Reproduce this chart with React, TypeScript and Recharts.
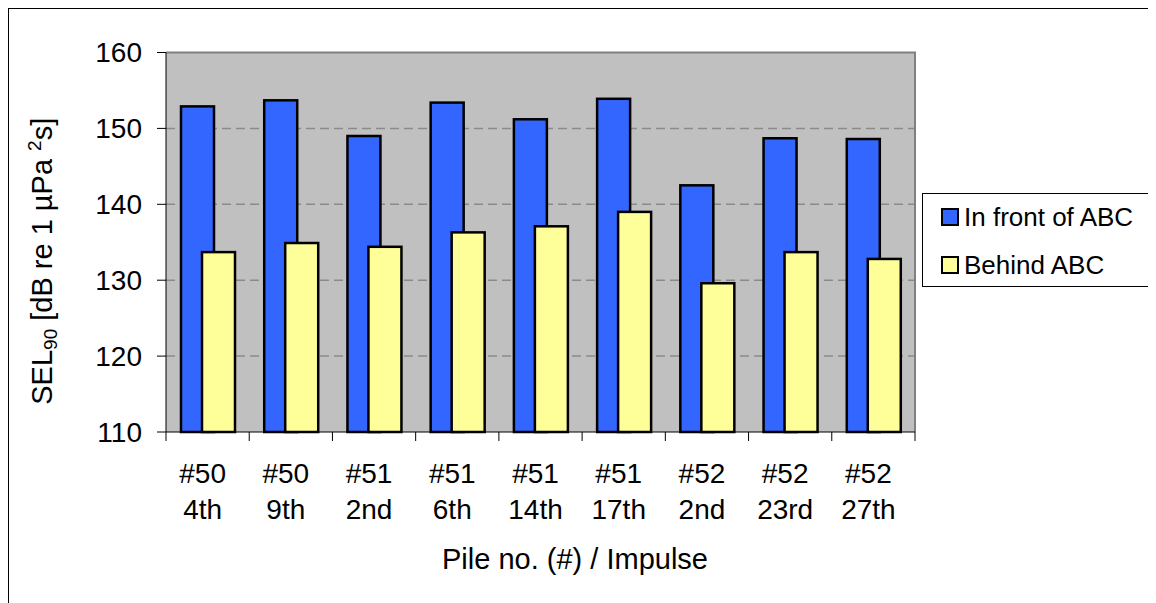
import React from 'react';
import {
  Bar,
  BarChart,
  CartesianGrid,
  Label,
  Legend,
  ReferenceArea,
  XAxis,
  YAxis,
} from 'recharts';

// Excel-style grouped bar chart: sound exposure level in front of / behind the ABC.

const piles = ['#50', '#50', '#51', '#51', '#51', '#51', '#52', '#52', '#52'];
const impulses = ['4th', '9th', '2nd', '6th', '14th', '17th', '2nd', '23rd', '27th'];
const inFront = [152.9, 153.7, 149.0, 153.4, 151.2, 153.9, 142.5, 148.7, 148.6];
const behind = [133.7, 134.9, 134.4, 136.3, 137.1, 139.0, 129.6, 133.7, 132.8];
const seriesNames = ['In front of ABC', 'Behind ABC'];
const yTicks = [110, 120, 130, 140, 150, 160];
const gridValues = [120, 130, 140, 150];

const data = piles.map((pile, i) => ({
  name: `${pile} ${impulses[i]}`,
  pile,
  impulse: impulses[i],
  front: inFront[i],
  behind: behind[i],
}));

const FONT = '"Liberation Sans", Arial, sans-serif';
const BLUE = '#3366FF';
const YELLOW = '#FFFF99';
const PLOT_BG = '#C0C0C0';

function CategoryTick(props: any) {
  const { x, y, payload, index, width, visibleTicksCount } = props;
  const n = visibleTicksCount || data.length;
  const half = width / n / 2;
  const d = data[payload.index ?? index];
  return (
    <g>
      <line x1={x - half} x2={x - half} y1={y} y2={y + 9} stroke="#000" strokeWidth={1} />
      {index === n - 1 && (
        <line x1={x + half} x2={x + half} y1={y} y2={y + 9} stroke="#000" strokeWidth={1} />
      )}
      <text x={x - 5} y={y + 51} textAnchor="middle" fontSize={28} fontFamily={FONT} fill="#000">
        {d ? d.pile : ''}
      </text>
      <text x={x - 5} y={y + 87} textAnchor="middle" fontSize={28} fontFamily={FONT} fill="#000">
        {d ? d.impulse : ''}
      </text>
    </g>
  );
}

function XTitle(props: any) {
  const vb = props.viewBox;
  return (
    <text
      x={vb.x + vb.width / 2 + 34.5}
      y={vb.y + 137}
      textAnchor="middle"
      fontSize={29}
      fontFamily={FONT}
      fill="#000"
    >
      Pile no. (#) / Impulse
    </text>
  );
}

function YTitle(props: any) {
  const vb = props.viewBox;
  const cy = vb.y + vb.height / 2 + 19;
  return (
    <text
      transform={`translate(43, ${cy}) rotate(-90)`}
      textAnchor="middle"
      fontSize={29}
      fontFamily={FONT}
      fill="#000"
    >
      <tspan>SEL</tspan>
      <tspan fontSize={19} dy={5}>90</tspan>
      <tspan dy={-5}> [dB re 1 µPa </tspan>
      <tspan fontSize={19} dy={-11}>2</tspan>
      <tspan dy={11}>s]</tspan>
    </text>
  );
}

function PlotFrame(props: any) {
  const { x, y, width, height } = props;
  return (
    <path
      d={`M${x},${y} H${x + width} V${y + height}`}
      fill="none"
      stroke="#808080"
      strokeWidth={2}
    />
  );
}

// plain outlined rectangle, Excel draws a heavy black border round each bar
function OutlinedBar(props: any) {
  const { x, y, width, height, fill } = props;
  if (!height || height <= 0) return null;
  return (
    <rect x={x} y={y} width={width} height={height} fill={fill} stroke="#000" strokeWidth={2.5} />
  );
}

function LegendBox(props: any) {
  // keep the series order (the legend would otherwise sort by name)
  const items = [...(props.payload || [])].sort(
    (a: any, b: any) => seriesNames.indexOf(a.value) - seriesNames.indexOf(b.value),
  );
  return (
    <div
      style={{
        position: 'relative',
        width: 234,
        height: 94,
        boxSizing: 'border-box',
        borderLeft: '1px solid #000',
        borderTop: '1px solid #000',
        borderBottom: '1px solid #000',
        background: '#fff',
        fontFamily: FONT,
        fontSize: 26,
        color: '#000',
      }}
    >
      {items.map((it: any, i: number) => (
        <div
          key={it.value}
          style={{
            position: 'absolute',
            left: 18,
            top: 14 + i * 48,
            height: 18,
            display: 'flex',
            alignItems: 'center',
            whiteSpace: 'nowrap',
          }}
        >
          <span
            style={{
              width: 18,
              height: 18,
              boxSizing: 'border-box',
              border: '2px solid #000',
              background: it.color,
              marginRight: 5,
              display: 'inline-block',
            }}
          />
          <span style={{ lineHeight: '18px' }}>{it.value}</span>
        </div>
      ))}
    </div>
  );
}

export default function App() {
  return (
    <>
      <style>{'html, body { overflow: hidden; }'}</style>
      <div
        style={{
          width: 1148,
          height: 595,
          boxSizing: 'border-box',
          borderLeft: '1px solid #000',
          borderTop: '1px solid #000',
          background: '#fff',
        }}
      >
        <BarChart
          width={1147}
          height={594}
          data={data}
          margin={{ top: 43.5, right: 241, bottom: 0, left: 0 }}
          barGap={-12}
        >
          <CartesianGrid
            vertical={false}
            horizontalValues={gridValues}
            fill={PLOT_BG}
            fillOpacity={1}
            stroke="#8a8a8a"
            strokeWidth={1.5}
            strokeDasharray="9 5"
          />
          <ReferenceArea y1={110} y2={160} shape={<PlotFrame />} ifOverflow="visible" />
          <XAxis
            dataKey="name"
            type="category"
            height={171}
            interval={0}
            tickLine={false}
            tickSize={0}
            tickMargin={0}
            axisLine={{ stroke: '#000', strokeWidth: 1 }}
            tick={<CategoryTick />}
          >
            <Label content={<XTitle />} />
          </XAxis>
          <YAxis
            type="number"
            domain={[110, 160]}
            ticks={yTicks}
            width={157}
            tickSize={9}
            tickMargin={15}
            axisLine={{ stroke: '#000', strokeWidth: 1 }}
            tickLine={{ stroke: '#000', strokeWidth: 1 }}
            tick={{ fontSize: 28, fill: '#000', fontFamily: FONT }}
          >
            <Label content={<YTitle />} />
          </YAxis>
          <Legend
            layout="vertical"
            align="center"
            verticalAlign="middle"
            content={<LegendBox />}
            wrapperStyle={{ left: 913, top: 184, width: 234, height: 94 }}
          />
          <Bar
            dataKey="front"
            name={seriesNames[0]}
            fill={BLUE}
            barSize={33}
            shape={<OutlinedBar />}
            isAnimationActive={false}
          />
          <Bar
            dataKey="behind"
            name={seriesNames[1]}
            fill={YELLOW}
            barSize={33}
            shape={<OutlinedBar />}
            isAnimationActive={false}
          />
        </BarChart>
      </div>
    </>
  );
}
